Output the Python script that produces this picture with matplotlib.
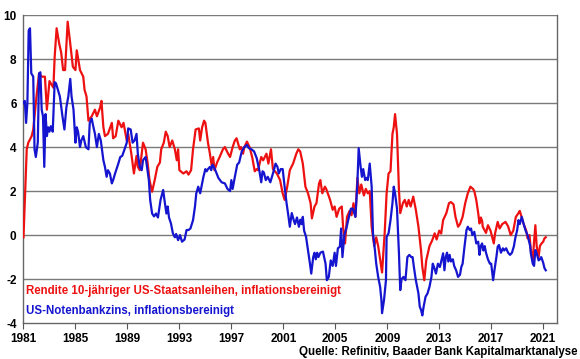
import matplotlib.pyplot as plt

plt.rcParams['font.family'] = ['Liberation Sans', 'DejaVu Sans']
plt.rcParams['axes.unicode_minus'] = False

# Rendite 10-jähriger US-Staatsanleihen, inflationsbereinigt (rot)
red_years = [1981.0, 1981.25, 1981.37, 1981.63, 1981.75, 1982.0, 1982.2, 1982.4, 1982.65, 1982.8,
             1983.0, 1983.3, 1983.4, 1983.55, 1983.75, 1983.9, 1984.05, 1984.2, 1984.4, 1984.6,
             1984.8, 1985.0, 1985.1, 1985.35, 1985.6, 1985.7, 1985.85, 1986.0, 1986.25, 1986.5,
             1986.65, 1986.9, 1987.0, 1987.15, 1987.27, 1987.5, 1987.8, 1987.9, 1988.1, 1988.3,
             1988.55, 1988.7, 1988.95, 1989.06, 1989.3, 1989.5, 1989.7, 1989.8, 1989.95, 1990.2,
             1990.4, 1990.55, 1990.7, 1990.9, 1991.1, 1991.3, 1991.5, 1991.6, 1991.8, 1991.95,
             1992.1, 1992.25, 1992.45, 1992.65, 1992.8, 1992.9, 1993.0, 1993.3, 1993.55, 1993.7,
             1993.9, 1994.05, 1994.25, 1994.5, 1994.6, 1994.75, 1994.9, 1995.0, 1995.2, 1995.35,
             1995.5, 1995.6, 1995.7, 1995.9, 1996.1, 1996.35, 1996.5, 1996.75, 1996.9, 1997.1,
             1997.27, 1997.4, 1997.5, 1997.65, 1997.75, 1997.9, 1998.0, 1998.2, 1998.4, 1998.6,
             1998.8, 1998.95, 1999.05, 1999.3, 1999.45, 1999.7, 1999.85, 2000.05, 2000.2, 2000.5,
             2000.75, 2000.95, 2001.1, 2001.3, 2001.5, 2001.75, 2002.0, 2002.15, 2002.3, 2002.5,
             2002.7, 2002.9, 2003.1, 2003.2, 2003.4, 2003.55, 2003.75, 2003.85, 2004.0, 2004.2,
             2004.3, 2004.6, 2004.8, 2004.95, 2005.1, 2005.3, 2005.5, 2005.6, 2005.75, 2005.9,
             2006.1, 2006.25, 2006.4, 2006.55, 2006.7, 2006.85, 2007.0, 2007.2, 2007.35, 2007.5,
             2007.65, 2007.8, 2008.0, 2008.15, 2008.3, 2008.5, 2008.6, 2008.8, 2008.95, 2009.1,
             2009.25, 2009.4, 2009.5, 2009.6, 2009.75, 2009.9, 2010.0, 2010.2, 2010.35, 2010.5,
             2010.65, 2010.8, 2011.0, 2011.2, 2011.4, 2011.6, 2011.7, 2011.85, 2012.0, 2012.25,
             2012.45, 2012.65, 2012.8, 2013.0, 2013.15, 2013.3, 2013.55, 2013.75, 2013.9, 2014.1,
             2014.25, 2014.45, 2014.6, 2014.8, 2015.0, 2015.2, 2015.4, 2015.6, 2015.7, 2015.85,
             2016.0, 2016.1, 2016.2, 2016.3, 2016.35, 2016.6, 2016.75, 2016.95, 2017.2, 2017.3,
             2017.5, 2017.65, 2017.85, 2018.1, 2018.3, 2018.5, 2018.7, 2018.9, 2019.1, 2019.2,
             2019.35, 2019.5, 2019.7, 2019.8, 2019.95, 2020.05, 2020.2, 2020.3, 2020.4, 2020.5,
             2020.65, 2020.75, 2020.85, 2021.0, 2021.1, 2021.2]
red_values = [-0.1, 3.9, 4.2, 4.5, 4.8, 6.3, 7.35, 7.2, 7.2, 5.7,
              7.0, 6.7, 8.1, 9.4, 8.7, 8.3, 7.5, 7.5, 9.7, 8.7,
              7.65, 7.5, 8.4, 7.5, 7.2, 6.6, 6.3, 5.2, 5.4, 5.7,
              5.4, 5.8, 6.1, 4.9, 4.5, 4.6, 5.1, 4.4, 4.5, 5.2,
              4.9, 5.1, 4.3, 4.6, 3.7, 2.8, 3.6, 3.1, 2.95, 4.2,
              3.9, 3.3, 2.5, 1.97, 2.5, 3.1, 3.3, 3.9, 4.2, 4.7,
              4.5, 4.0, 4.3, 3.9, 3.4, 3.9, 2.95, 2.8, 2.9, 2.75,
              2.95, 3.9, 4.8, 4.85, 4.3, 4.9, 5.2, 5.1, 4.2, 3.7,
              3.1, 3.55, 2.95, 3.3, 3.55, 3.9, 4.0, 3.7, 3.55, 4.0,
              4.3, 4.4, 4.2, 3.9, 4.0, 3.7, 4.0, 4.25, 4.0, 3.55,
              2.9, 3.0, 2.95, 3.55, 3.4, 3.7, 3.25, 3.9, 3.0, 2.8,
              2.5, 1.9, 1.6, 2.2, 2.95, 3.25, 3.7, 3.9, 3.8, 3.25,
              2.2, 1.9, 1.45, 0.76, 1.3, 1.45, 2.35, 2.5, 1.9, 2.2,
              2.1, 1.6, 1.15, 1.3, 0.83, 1.2, 1.3, 0.38, -0.38, 0.83,
              1.1, 0.9, 1.45, 0.83, 2.6, 1.9, 2.3, 1.8, 2.1, 1.9,
              2.0, 0.38, -0.5, -0.1, -0.5, -1.3, -1.7, 0.08, 1.9, 2.8,
              2.9, 4.6, 4.9, 5.5, 4.6, 2.05, 1.0, 1.45, 1.6, 1.3,
              1.6, 1.3, 1.75, 1.15, 0.38, -0.7, -1.45, -2.05, -1.15, -0.5,
              -0.25, 0.08, -0.2, 0.2, 0.07, 0.68, 1.0, 1.45, 1.5, 1.4,
              0.83, 0.38, 0.5, 0.83, 1.45, 1.9, 2.2, 2.1, 2.0, 1.6,
              1.0, 0.53, 0.8, 0.65, 0.38, 0.1, 0.45, 0.2, -0.38, 0.08,
              0.6, 0.3, 0.5, 0.6, 0.4, 0.0, 0.2, 0.83, 1.0, 1.1,
              0.8, 0.5, 0.2, -0.15, 0.0, -0.68, -1.15, -0.3, 0.45, -0.5,
              -1.0, -0.5, -0.4, -0.3, -0.15, -0.1]

# US-Notenbankzins, inflationsbereinigt (blau)
blue_years = [1981.0, 1981.1, 1981.2, 1981.3, 1981.4, 1981.5, 1981.6, 1981.75, 1981.85, 1981.95,
              1982.1, 1982.2, 1982.3, 1982.4, 1982.5, 1982.6, 1982.7, 1982.8, 1982.9, 1983.0,
              1983.1, 1983.25, 1983.4, 1983.5, 1983.65, 1983.8, 1984.0, 1984.15, 1984.3, 1984.45,
              1984.6, 1984.7, 1984.85, 1985.0, 1985.1, 1985.2, 1985.35, 1985.45, 1985.6, 1985.8,
              1986.0, 1986.1, 1986.25, 1986.35, 1986.5, 1986.65, 1986.8, 1986.95, 1987.15, 1987.27,
              1987.4, 1987.5, 1987.65, 1987.8, 1987.9, 1988.05, 1988.3, 1988.45, 1988.6, 1988.75,
              1988.95, 1989.06, 1989.25, 1989.4, 1989.55, 1989.7, 1989.8, 1989.95, 1990.1, 1990.2,
              1990.4, 1990.65, 1990.75, 1990.9, 1991.05, 1991.2, 1991.35, 1991.55, 1991.75, 1991.85,
              1992.0, 1992.1, 1992.2, 1992.35, 1992.5, 1992.65, 1992.75, 1992.9, 1993.05, 1993.2,
              1993.4, 1993.55, 1993.7, 1993.85, 1994.05, 1994.2, 1994.3, 1994.45, 1994.6, 1994.7,
              1994.85, 1995.0, 1995.1, 1995.2, 1995.35, 1995.45, 1995.55, 1995.65, 1995.8, 1996.0,
              1996.25, 1996.5, 1996.7, 1996.9, 1997.0, 1997.1, 1997.27, 1997.45, 1997.6, 1997.8,
              1998.0, 1998.2, 1998.35, 1998.55, 1998.75, 1998.95, 1999.15, 1999.3, 1999.4, 1999.5,
              1999.65, 1999.8, 2000.0, 2000.25, 2000.4, 2000.55, 2000.65, 2000.8, 2000.95, 2001.1,
              2001.25, 2001.4, 2001.5, 2001.65, 2001.8, 2001.9, 2002.05, 2002.2, 2002.3, 2002.4,
              2002.5, 2002.6, 2002.75, 2002.9, 2003.05, 2003.15, 2003.3, 2003.4, 2003.5, 2003.6,
              2003.7, 2003.85, 2004.05, 2004.25, 2004.35, 2004.5, 2004.65, 2004.8, 2004.95, 2005.05,
              2005.2, 2005.35, 2005.45, 2005.55, 2005.7, 2005.85, 2006.0, 2006.2, 2006.35, 2006.55,
              2006.7, 2006.8, 2006.95, 2007.05, 2007.15, 2007.3, 2007.4, 2007.5, 2007.65, 2007.8,
              2007.9, 2008.05, 2008.15, 2008.3, 2008.45, 2008.55, 2008.6, 2008.75, 2008.9, 2008.95,
              2009.1, 2009.25, 2009.4, 2009.5, 2009.6, 2009.75, 2009.9, 2010.0, 2010.1, 2010.25,
              2010.4, 2010.55, 2010.7, 2010.85, 2010.95, 2011.05, 2011.2, 2011.4, 2011.5, 2011.6,
              2011.7, 2011.8, 2011.95, 2012.1, 2012.25, 2012.4, 2012.5, 2012.6, 2012.75, 2012.9,
              2013.05, 2013.15, 2013.3, 2013.4, 2013.5, 2013.6, 2013.7, 2013.8, 2013.9, 2014.05,
              2014.15, 2014.3, 2014.45, 2014.6, 2014.7, 2014.8, 2014.95, 2015.1, 2015.2, 2015.35,
              2015.45, 2015.55, 2015.7, 2015.85, 2016.0, 2016.1, 2016.2, 2016.3, 2016.4, 2016.5,
              2016.6, 2016.75, 2016.9, 2017.0, 2017.15, 2017.25, 2017.4, 2017.5, 2017.6, 2017.75,
              2017.9, 2018.0, 2018.15, 2018.3, 2018.45, 2018.6, 2018.75, 2018.85, 2019.0, 2019.1,
              2019.2, 2019.35, 2019.5, 2019.65, 2019.8, 2020.0, 2020.05, 2020.2, 2020.3, 2020.4,
              2020.5, 2020.65, 2020.75, 2020.85, 2021.0, 2021.1, 2021.2]
blue_values = [6.0, 6.1, 5.1, 6.0, 9.3, 9.4, 7.35, 7.2, 3.9, 3.55,
               4.2, 7.35, 7.4, 5.7, 5.4, 3.1, 5.5, 4.5, 4.9, 4.7,
               4.95, 4.7, 6.95, 6.9, 6.6, 6.3, 5.4, 4.8, 5.8, 6.3,
               7.1, 6.3, 5.7, 4.2, 4.9, 4.7, 4.0, 4.3, 4.5, 4.0,
               3.9, 5.1, 5.3, 5.0, 4.6, 4.0, 4.6, 4.3, 3.4, 3.1,
               2.65, 2.95, 2.8, 2.35, 2.5, 2.8, 3.25, 3.55, 3.6, 3.85,
               4.2, 4.85, 4.8, 4.2, 4.3, 4.6, 3.7, 3.1, 2.95, 3.4,
               3.55, 2.5, 1.6, 0.98, 0.85, 0.98, 0.8, 1.6, 2.05, 1.6,
               0.98, 1.3, 0.8, 0.53, 0.08, -0.1, 0.05, -0.23, 0.0, -0.3,
               -0.2, 0.23, 0.23, 0.3, 0.68, 1.3, 1.9, 2.2, 1.9, 2.2,
               2.65, 3.0, 2.9, 3.0, 3.1, 2.95, 3.2, 3.1, 2.9, 2.6,
               2.4, 2.35, 2.1, 2.0, 2.5, 2.1, 2.65, 3.2, 3.3, 3.8,
               4.0, 4.1, 3.95, 3.9, 3.8, 3.5, 2.95, 2.4, 2.9, 2.85,
               2.5, 2.65, 2.4, 2.9, 3.25, 3.1, 2.8, 3.0, 3.0, 2.2,
               1.45, 0.83, 0.38, 1.0, 0.68, 0.5, 0.8, 0.38, 0.7, 0.5,
               0.83, 0.2, -0.08, -0.68, -1.3, -1.75, -1.0, -0.8, -1.1, -0.8,
               -1.0, -0.8, -0.75, -1.3, -2.05, -1.9, -1.15, -1.4, -0.8, -1.4,
               -0.6, -0.53, 0.3, -1.0, 0.0, 0.3, 0.7, 1.2, 1.2, 0.83,
               2.35, 3.95, 3.1, 2.65, 3.0, 2.5, 2.6, 2.5, 3.25, 2.2,
               0.08, -0.68, -1.3, -1.9, -2.35, -2.95, -3.55, -2.95, -2.05, -0.08,
               0.08, 0.68, 1.45, 2.2, 1.9, 1.2, -0.83, -2.5, -2.0, -1.9,
               -2.05, -1.0, -0.9, -1.0, -1.0, -1.45, -2.05, -2.65, -3.25, -3.4,
               -3.65, -3.25, -2.8, -2.65, -2.35, -1.9, -1.3, -1.45, -1.75, -1.3,
               -1.45, -1.2, -0.83, -1.6, -1.0, -0.8, -1.2, -0.9, -1.2, -1.1,
               -1.4, -1.6, -1.9, -1.8, -1.45, -1.3, -0.5, 0.23, 0.38, 0.23,
               0.3, 0.0, 0.15, -0.38, -0.3, -0.9, -0.5, -0.38, -0.7, -0.5,
               -0.8, -1.1, -1.3, -1.3, -2.05, -1.6, -1.0, -0.53, -0.45, -0.8,
               -0.6, -0.7, -0.6, -0.8, -0.9, -0.8, -0.5, -0.15, 0.23, 0.68,
               0.5, 0.83, 0.5, 0.2, 0.0, -0.5, -0.83, -1.3, -1.4, -0.68,
               -0.83, -1.15, -1.1, -1.0, -1.25, -1.5, -1.6]

x_ticks = list(range(1981, 2022, 4))
y_ticks = list(range(-4, 11, 2))

fig = plt.figure(figsize=(5.8, 3.59), dpi=100)
ax = fig.add_axes([0.0405, 0.1, 0.9195, 0.858])

for y in y_ticks[1:]:
    ax.axhline(y, color='#7a7a7a', lw=1.0, zorder=1)

ax.plot(red_years, red_values, color='#ee1111', lw=1.6, zorder=3)
ax.plot(blue_years, blue_values, color='#1515d0', lw=1.6, zorder=4)

ax.set_xlim(1981, 2022.05)
ax.set_ylim(-4, 10)
ax.set_xticks(x_ticks)
ax.set_yticks(y_ticks)
ax.tick_params(axis='x', direction='out', length=4, width=0.8, color='#555555',
               labelsize=8.5, pad=3)
ax.tick_params(axis='y', length=0, labelsize=8.5, pad=5)
for lab in ax.get_xticklabels() + ax.get_yticklabels():
    lab.set_fontweight('bold')

for side in ['left', 'right', 'bottom']:
    ax.spines[side].set_color('#666666')
    ax.spines[side].set_linewidth(1.0)
ax.spines['top'].set_visible(False)

ax.text(1981.2, -2.55, 'Rendite 10-jähriger US-Staatsanleihen, inflationsbereinigt',
        color='#ee1111', fontsize=8.3, fontweight='bold', va='center')
ax.text(1981.2, -3.45, 'US-Notenbankzins, inflationsbereinigt',
        color='#1515d0', fontsize=8.3, fontweight='bold', va='center')

fig.text(0.995, 0.003, 'Quelle: Refinitiv, Baader Bank Kapitalmarktanalyse',
         ha='right', va='bottom', fontsize=8.3, fontweight='bold')

fig.savefig('out.png', dpi=100)
